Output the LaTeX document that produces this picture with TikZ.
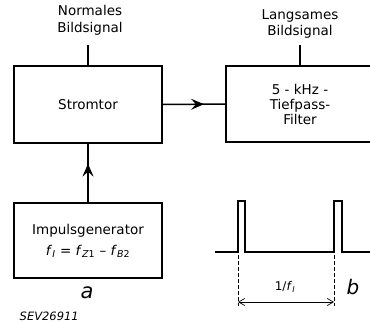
\documentclass[tikz,border=0pt]{standalone}
\usepackage{fontspec}
\setmainfont{DejaVu Sans}
\usetikzlibrary{arrows.meta,calc,positioning,decorations.markings}

\begin{document}
\begin{tikzpicture}[
    x=1pt, y=-1pt,
    font=\fontsize{13.5}{16.5}\selectfont,
    line width=1.5pt,
    blk/.style={draw, line width=1.5pt, minimum width=148pt, align=center, inner sep=0pt},
    lbl/.style={align=center, inner sep=0pt},
    midarrow/.style={postaction={decorate}, decoration={markings,
        mark=at position 0.66 with {\arrow{Stealth[length=13pt,width=11pt,inset=5pt]}}}},
    dim/.style={line width=0.7pt, dash pattern=on 3.5pt off 2.5pt},
]
\clip (0,0) rectangle (370,322);

% ---- blocks ----
\node[blk, minimum height=77pt] (stromtor) at (88,104.5) {Stromtor};
\node[blk, minimum height=76pt, font=\fontsize{13.5}{15}\selectfont] (filter) at (300,104)
    {5 - kHz -\\Tiefpass-\\Filter};
\node[blk, minimum height=75pt, font=\fontsize{13.5}{21}\selectfont] (impuls) at (88,240.5)
    {Impulsgenerator\\\textit{f}\textsubscript{\textit{I}} = \textit{f}\textsubscript{\textit{Z}1} -- \textit{f}\textsubscript{\textit{B}2}};

% ---- signal labels ----
\node[lbl] (normales) at (90,20.5) {Normales\\Bildsignal};
\node[lbl] (langsames) at (300,24) {Langsames\\Bildsignal};
\coordinate (nin) at (88,45);
\coordinate (lin) at (300,45);

% ---- connectors ----
\draw (nin) -- (stromtor.north);
\draw (lin) -- (filter.north);
\draw[midarrow] (stromtor.east) -- (filter.west);
\draw[midarrow] (impuls.north) -- (stromtor.south);

\node[font=\fontsize{21}{21}\selectfont\itshape] (la) at (87,293) {a};
\node[font=\fontsize{11.5}{12}\selectfont\itshape, anchor=west, inner sep=0pt] (sev) at (19,316) {SEV26911};

% ---- pulse train ----
\coordinate (p1) at (238,252);
\coordinate (p2) at (334,252);
\draw[line width=1.4pt] (215,252) -- (p1) -- (238,201) -- (245,201) -- (245,252) -- (p2)
    -- (334,201) -- (342,201) -- (342,252) -- (370,252);
\draw[dim] ($(p1)+(0,3)$) coordinate (d1) -- ($(p1)+(0,54)$);
\draw[dim] ($(p2)+(0,3)$) coordinate (d2) -- ($(p2)+(0,54)$);
\draw[line width=0.7pt, {Straight Barb[length=6pt,width=7pt]}-{Straight Barb[length=6pt,width=7pt]}]
    ($(p1)+(0,50)$) -- ($(p2)+(0,50)$);
\node[font=\fontsize{12}{12}\selectfont] (per) at (285,287) {1/\textit{f}\textsubscript{\textit{I}}};
\node[font=\fontsize{20}{20}\selectfont\itshape] (lb) at (353,287) {b};
\end{tikzpicture}
\end{document}
